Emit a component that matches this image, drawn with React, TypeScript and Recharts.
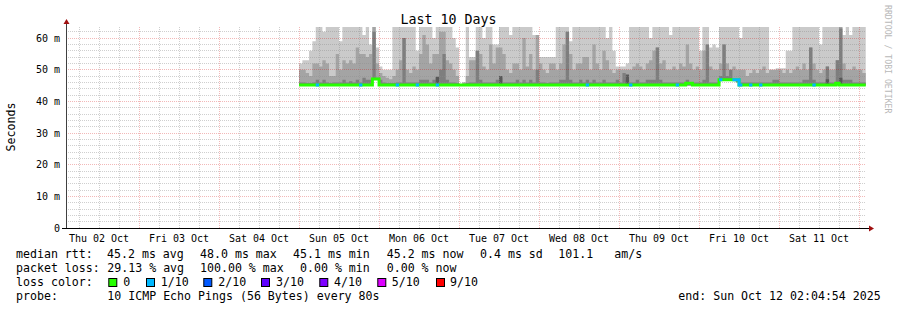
import React from 'react';
import { ComposedChart, Area, Line, XAxis, YAxis, ReferenceLine } from 'recharts';

// ---------- axis / label data ----------
const dayLabels = ['Thu 02 Oct', 'Fri 03 Oct', 'Sat 04 Oct', 'Sun 05 Oct', 'Mon 06 Oct', 'Tue 07 Oct', 'Wed 08 Oct', 'Thu 09 Oct', 'Fri 10 Oct', 'Sat 11 Oct'];
const dayLabelHours = [12, 36, 60, 84, 108, 132, 156, 180, 204, 228];
const yTicks = [0, 10, 20, 30, 40, 50, 60];
const yTickLabels = ['0', '10 m', '20 m', '30 m', '40 m', '50 m', '60 m'];
const majorYGrid = [10, 20, 30, 40, 50, 60];
const minorYGrid = [2, 4, 6, 8, 12, 14, 16, 18, 22, 24, 26, 28, 32, 34, 36, 38, 42, 44, 46, 48, 52, 54, 56, 58, 62];
const majorXGrid = [24, 48, 72, 96, 120, 144, 168, 192, 216, 240];
const minorXGrid = [6, 12, 18, 30, 36, 42, 54, 60, 66, 78, 84, 90, 102, 108, 114, 126, 132, 138, 150, 156, 162, 174, 180, 186, 198, 204, 210, 222, 228, 234];

// hours since Thu 02 Oct 00:00
const viewStart = 2.0817;
const viewEnd = 242.0817;
const smokeStartHour = 72; // Sun 05 Oct 00:00, hourly samples

// ---------- series (ms) ----------
const maxPing = [
  52, 53, 53, 56, 59, 70, 70, 62, 70, 70,
  70, 70, 59, 70, 70, 70, 70, 70, 70, 61,
  70, 58, 70, 57, 51, 50, 50, 50, 70, 70,
  70, 70, 70, 70, 70, 56, 70, 70, 70, 70,
  60, 70, 70, 70, 70, 70, 60, 57, 45.5, 46,
  70, 54, 54, 70, 70, 60, 70, 70, 58, 58,
  70, 70, 70, 61, 70, 70, 70, 70, 70, 70,
  61, 61, 54, 54, 54, 54, 54, 70, 70, 70,
  70, 59, 70, 70, 70, 70, 70, 70, 70, 70,
  70, 70, 60, 70, 56, 51, 51, 51, 52, 70,
  70, 70, 70, 70, 70, 60, 70, 70, 70, 70,
  70, 61, 70, 70, 70, 70, 70, 70, 70, 70,
  56, 70, 70, 57, 58, 57, 70, 70, 70, 70,
  70, 70, 60, 70, 70, 70, 70, 70, 70, 70,
  70, 50, 50, 50.5, 50.5, 50.5, 56, 56, 70, 70,
  70, 70, 70, 70, 70, 70, 58, 70, 70, 70,
  70, 70, 70, 61, 70, 61, 70, 70, 70, 70,
  70,
];
const ping9 = [
  50, 50, 49, 48, 52, 52, 51, 53, 52, 48,
  48, 55, 50, 53, 52, 53, 52, 57, 55, 55,
  54, 55, 70, 52, 49, 48, 47.5, 47, 48, 50,
  53, 60, 50, 49, 51, 50, 55, 61, 58, 52,
  55, 55, 62, 62, 53, 52, 50, 48, 45.5, 46,
  48, 53, 53, 56, 55, 51, 50, 58, 52, 57,
  57, 55, 50, 49, 52, 52, 50, 60, 51, 55,
  50, 61, 52, 50, 49, 52, 52, 50, 52, 58,
  62, 55, 50, 52, 52, 54, 54, 50, 58, 52,
  50, 56, 53, 50, 49, 50, 50, 50, 50, 50,
  51, 52, 51, 50, 52, 53, 56, 57, 52, 53,
  50, 50, 51, 50, 52, 51, 58, 52, 50, 51,
  50, 56, 58, 51, 50, 50, 52, 58, 52, 50,
  51, 50, 50, 50, 48, 49, 50, 49, 50, 51,
  49, 50, 50, 50, 50, 49, 50, 49, 50, 51,
  50, 52, 50, 57, 52, 50, 49, 50, 51, 50,
  50, 53, 70, 52, 50, 50, 51, 50, 50, 49,
  49,
];
const ping8 = [
  46.0, 46.0, 45.8, 45.8, 46.0, 46.8, 46.0, 46.8, 46.0, 45.8,
  46.0, 46.0, 46.0, 46.8, 46.0, 46.4, 46.0, 46.8, 46.0, 47.5,
  46.8, 46.8, 62, 47.5, 46.8, 46.0, 45.8, 45.8, 45.8, 46.0,
  46.0, 60, 46.0, 46.0, 46.0, 46.0, 46.8, 46.8, 46.8, 46.0,
  46.8, 47.5, 50, 55, 46.8, 46.0, 46.0, 45.8, 45.5, 45.5,
  45.8, 46.0, 46.0, 56, 46.8, 46.0, 46.0, 46.0, 46.0, 46.8,
  47.5, 46.0, 46.0, 46.0, 46.0, 46.8, 46.0, 46.8, 46.0, 46.8,
  46.0, 50, 46.0, 46.0, 45.8, 46.0, 46.0, 46.0, 46.8, 46.8,
  62, 46.8, 46.0, 46.0, 46.8, 46.0, 46.8, 46.0, 46.8, 46.0,
  46.0, 46.8, 46.0, 46.0, 46.0, 46.8, 46.0, 49, 46.8, 46.0,
  46.0, 46.8, 46.0, 46.0, 46.8, 46.8, 46.8, 57, 46.8, 46.0,
  46.0, 46.0, 46.0, 46.0, 46.0, 46.0, 46.8, 46.0, 46.0, 46.0,
  46.0, 46.8, 58, 46.0, 46.0, 46.0, 48, 58, 48, 50,
  46.8, 46.0, 46.0, 46.0, 46.0, 46.0, 46.0, 46.0, 46.0, 46.0,
  46.0, 46.0, 46.8, 46.8, 46.0, 46.0, 46.0, 46.0, 46.0, 46.0,
  46.0, 46.8, 46.8, 57, 46.8, 46.0, 46.0, 46.0, 51, 46.0,
  46.0, 53, 63, 46.8, 46.8, 46.8, 46.0, 46.0, 46.0, 46.0,
  46.0,
];
// sparse darker pings: [hour index, ms]
const ping7Spikes = [[41, 47.8], [60, 48], [98, 48.5], [158, 47], [162, 47.5]];
// sparse raised minimum pings (smoke floor), default 45 ms: [hour index, ms]
const minPingRaised = [[22, 46.9], [23, 46.9], [126, 46.6], [127, 46.6], [128, 46.6], [129, 46.6], [130, 46.6], [131, 46.6]];
const medianRtt = [
  45.2, 45.2, 45.2, 45.2, 45.2, 45.2, 45.2, 45.2, 45.2, 45.2,
  45.2, 45.2, 45.2, 45.2, 45.2, 45.2, 45.2, 45.2, 45.2, 45.2,
  45.2, 45.2, 47.1, 47.1, 45.2, 45.2, 45.2, 45.2, 45.2, 45.2,
  45.2, 45.2, 45.2, 45.2, 45.2, 45.2, 45.2, 45.2, 45.2, 45.2,
  45.2, 45.2, 45.2, 45.2, 45.2, 45.2, 45.2, 45.2, 45.2, 45.2,
  45.2, 45.2, 45.2, 45.2, 45.2, 45.2, 45.2, 45.2, 45.2, 45.2,
  45.2, 45.2, 45.2, 45.2, 45.2, 45.2, 45.2, 45.2, 45.2, 45.2,
  45.2, 45.2, 45.2, 45.2, 45.2, 45.2, 45.2, 45.2, 45.2, 45.2,
  45.2, 45.2, 45.2, 45.2, 45.2, 45.2, 45.2, 45.2, 45.2, 45.2,
  45.2, 45.2, 45.2, 45.2, 45.2, 45.2, 45.2, 45.2, 45.2, 45.2,
  45.2, 45.2, 45.2, 45.2, 45.2, 45.2, 45.2, 45.2, 45.2, 45.2,
  45.2, 45.2, 45.2, 45.2, 45.2, 45.2, 45.7, 45.7, 45.2, 45.2,
  45.2, 45.2, 45.2, 45.2, 45.2, 45.2, 46.8, 46.8, 46.8, 46.8,
  46.8, 46.8, 45.2, 45.2, 45.2, 45.2, 45.2, 45.2, 45.2, 45.2,
  45.2, 45.2, 45.2, 45.2, 45.2, 45.2, 45.2, 45.2, 45.2, 45.2,
  45.2, 45.2, 45.2, 45.2, 45.2, 45.2, 45.2, 45.2, 45.2, 45.2,
  45.2, 45.7, 45.2, 45.2, 45.2, 45.2, 45.2, 45.2, 45.2, 45.2,
  45.2,
];
// hour indices with 1/10 packet loss
const lossOneTenth = [5, 18, 29, 35, 41, 86, 99, 113, 126, 130, 132, 135, 138, 154];

// ---------- legend text ----------
const legendRtt = [[16, 'median rtt:'], [107, '45.2 ms avg'], [200, '48.0 ms max'], [293, '45.1 ms min'], [386.7, '45.2 ms now'], [480, '0.4 ms sd'], [558.3, '101.1'], [614.3, 'am/s']];
const legendLoss = [[16, 'packet loss:'], [107.3, '29.13 % avg'], [200, '100.00 % max'], [300, '0.00 % min'], [386.7, '0.00 % now']];
const lossColorLabels = ['0', '1/10', '2/10', '3/10', '4/10', '5/10', '9/10'];
const lossColors = ['#26ff00', '#00b8ff', '#0059ff', '#5e00ff', '#7e00ff', '#dd00ff', '#ff0000'];
const lossBoxX = [108.3, 146, 203.3, 261, 319.3, 377.3, 436];
const lossLabelX = [123.3, 160.7, 218.3, 276, 334, 391.7, 450];
const probeText = '10 ICMP Echo Pings (56 Bytes) every 80s';
const endText = 'end: Sun Oct 12 02:04:54 2025';

const MONO = 'DejaVu Sans Mono, monospace';

const spikeMap = new Map(ping7Spikes.map(([i, v]) => [i, v]));
const lowMap = new Map(minPingRaised.map(([i, v]) => [i, v]));
const lossSet = new Set(lossOneTenth);
const table = maxPing.map((v, i) => {
  const low = lowMap.has(i) ? (lowMap.get(i) as number) : 45;
  return {
    h: smokeStartHour + i,
    top: [low, v],
    p9: [low, ping9[i]],
    p8: [low, ping8[i]],
    p7: [low, spikeMap.has(i) ? (spikeMap.get(i) as number) : low],
    med: medianRtt[i],
    lossLine: lossSet.has(i) || lossSet.has(i - 1) ? medianRtt[i] : null,
  };
});

export default function App() {
  const minorStroke = 'rgba(140,140,140,0.42)';
  const majorStroke = 'rgba(210,0,0,0.28)';
  return (
    <div style={{ position: 'absolute', left: 0, top: 0, width: 897, height: 310, background: '#fff', overflow: 'hidden' }}>
      <ComposedChart width={897} height={310} data={table} margin={{ top: 27, right: 31, bottom: 0, left: 0 }}>
        <XAxis
          type="number"
          dataKey="h"
          domain={[viewStart, viewEnd]}
          allowDataOverflow
          ticks={dayLabelHours}
          interval={0}
          tickFormatter={(v) => dayLabels[dayLabelHours.indexOf(v)]}
          tickLine={false}
          axisLine={false}
          tickSize={5}
          tickMargin={2}
          height={82}
          tick={{ fontSize: 10, fontFamily: MONO, fill: '#000' }}
        />
        <YAxis
          type="number"
          domain={[0, 63.5]}
          allowDataOverflow
          ticks={yTicks}
          interval={0}
          tickFormatter={(v) => yTickLabels[yTicks.indexOf(v)]}
          tickLine={false}
          axisLine={false}
          tickSize={4}
          tickMargin={2}
          width={66}
          tick={{ fontSize: 10, fontFamily: MONO, fill: '#000' }}
        />
        <Area dataKey="top" type="stepAfter" fill="#cacaca" fillOpacity={1} stroke="none" isAnimationActive={false} />
        <Area dataKey="p9" type="stepAfter" fill="#a4a4a4" fillOpacity={1} stroke="none" isAnimationActive={false} />
        <Area dataKey="p8" type="stepAfter" fill="#7e7e7e" fillOpacity={1} stroke="none" isAnimationActive={false} />
        <Area dataKey="p7" type="stepAfter" fill="#585858" fillOpacity={1} stroke="none" isAnimationActive={false} />
        {minorYGrid.map((v) => (
          <ReferenceLine key={'my' + v} y={v} stroke={minorStroke} strokeDasharray="1 1" shapeRendering="crispEdges" />
        ))}
        {minorXGrid.map((v) => (
          <ReferenceLine key={'mx' + v} x={v} stroke={minorStroke} strokeDasharray="1 1" shapeRendering="crispEdges" />
        ))}
        {majorYGrid.map((v) => (
          <ReferenceLine key={'My' + v} y={v} stroke={majorStroke} strokeDasharray="1 1" shapeRendering="crispEdges" />
        ))}
        {majorXGrid.map((v) => (
          <ReferenceLine key={'Mx' + v} x={v} stroke={majorStroke} strokeDasharray="1 1" shapeRendering="crispEdges" />
        ))}
        <Line dataKey="med" type="stepAfter" stroke="#26ff00" strokeWidth={3} dot={false} activeDot={false} isAnimationActive={false} />
        <Line dataKey="lossLine" type="stepAfter" stroke="#00b8ff" strokeWidth={3} dot={false} activeDot={false} connectNulls={false} isAnimationActive={false} />
      </ComposedChart>
      <svg width={897} height={310} style={{ position: 'absolute', left: 0, top: 0, pointerEvents: 'none' }} fontFamily={MONO}>
        {/* axes */}
        <line x1={66.5} y1={22} x2={66.5} y2={229} stroke="#404040" strokeWidth={1} />
        <line x1={62} y1={228.5} x2={870} y2={228.5} stroke="#000" strokeWidth={1} />
        <polygon points="63.5,24 69.5,24 66.5,19" fill="#a01010" />
        <polygon points="869,225.5 869,231.5 874,228.5" fill="#a01010" />
        {/* title */}
        <text x={448.5} y={24} fontSize={13.3} textAnchor="middle" fill="#000">Last 10 Days</text>
        {/* y label */}
        <text transform="translate(15,127) rotate(-90)" fontSize={11.6} textAnchor="middle" fill="#000">Seconds</text>
        {/* watermark */}
        <text transform="translate(884.5,5) rotate(90)" fontSize={8.2} fill="#b8b8b8">RRDTOOL / TOBI OETIKER</text>
        {/* legend */}
        <g fontSize={11.6} fill="#000" style={{ whiteSpace: 'pre' }}>
          {legendRtt.map(([x, t]) => (
            <text key={'r' + t} x={x as number} y={258.3}>{t}</text>
          ))}
          {legendLoss.map(([x, t]) => (
            <text key={'l' + t} x={x as number} y={272.3}>{t}</text>
          ))}
          <text x={16} y={286.3}>loss color:</text>
          {lossColorLabels.map((t, i) => (
            <g key={'c' + t}>
              <rect x={lossBoxX[i] + 0.5} y={278.5} width={8} height={8} fill={lossColors[i]} stroke="#000" strokeWidth={1} />
              <text x={lossLabelX[i]} y={286.3}>{t}</text>
            </g>
          ))}
          <text x={16} y={300.3}>probe:</text>
          <text x={107.3} y={300.3}>{probeText}</text>
          <text x={678.3} y={300.3}>{endText}</text>
        </g>
      </svg>
    </div>
  );
}
